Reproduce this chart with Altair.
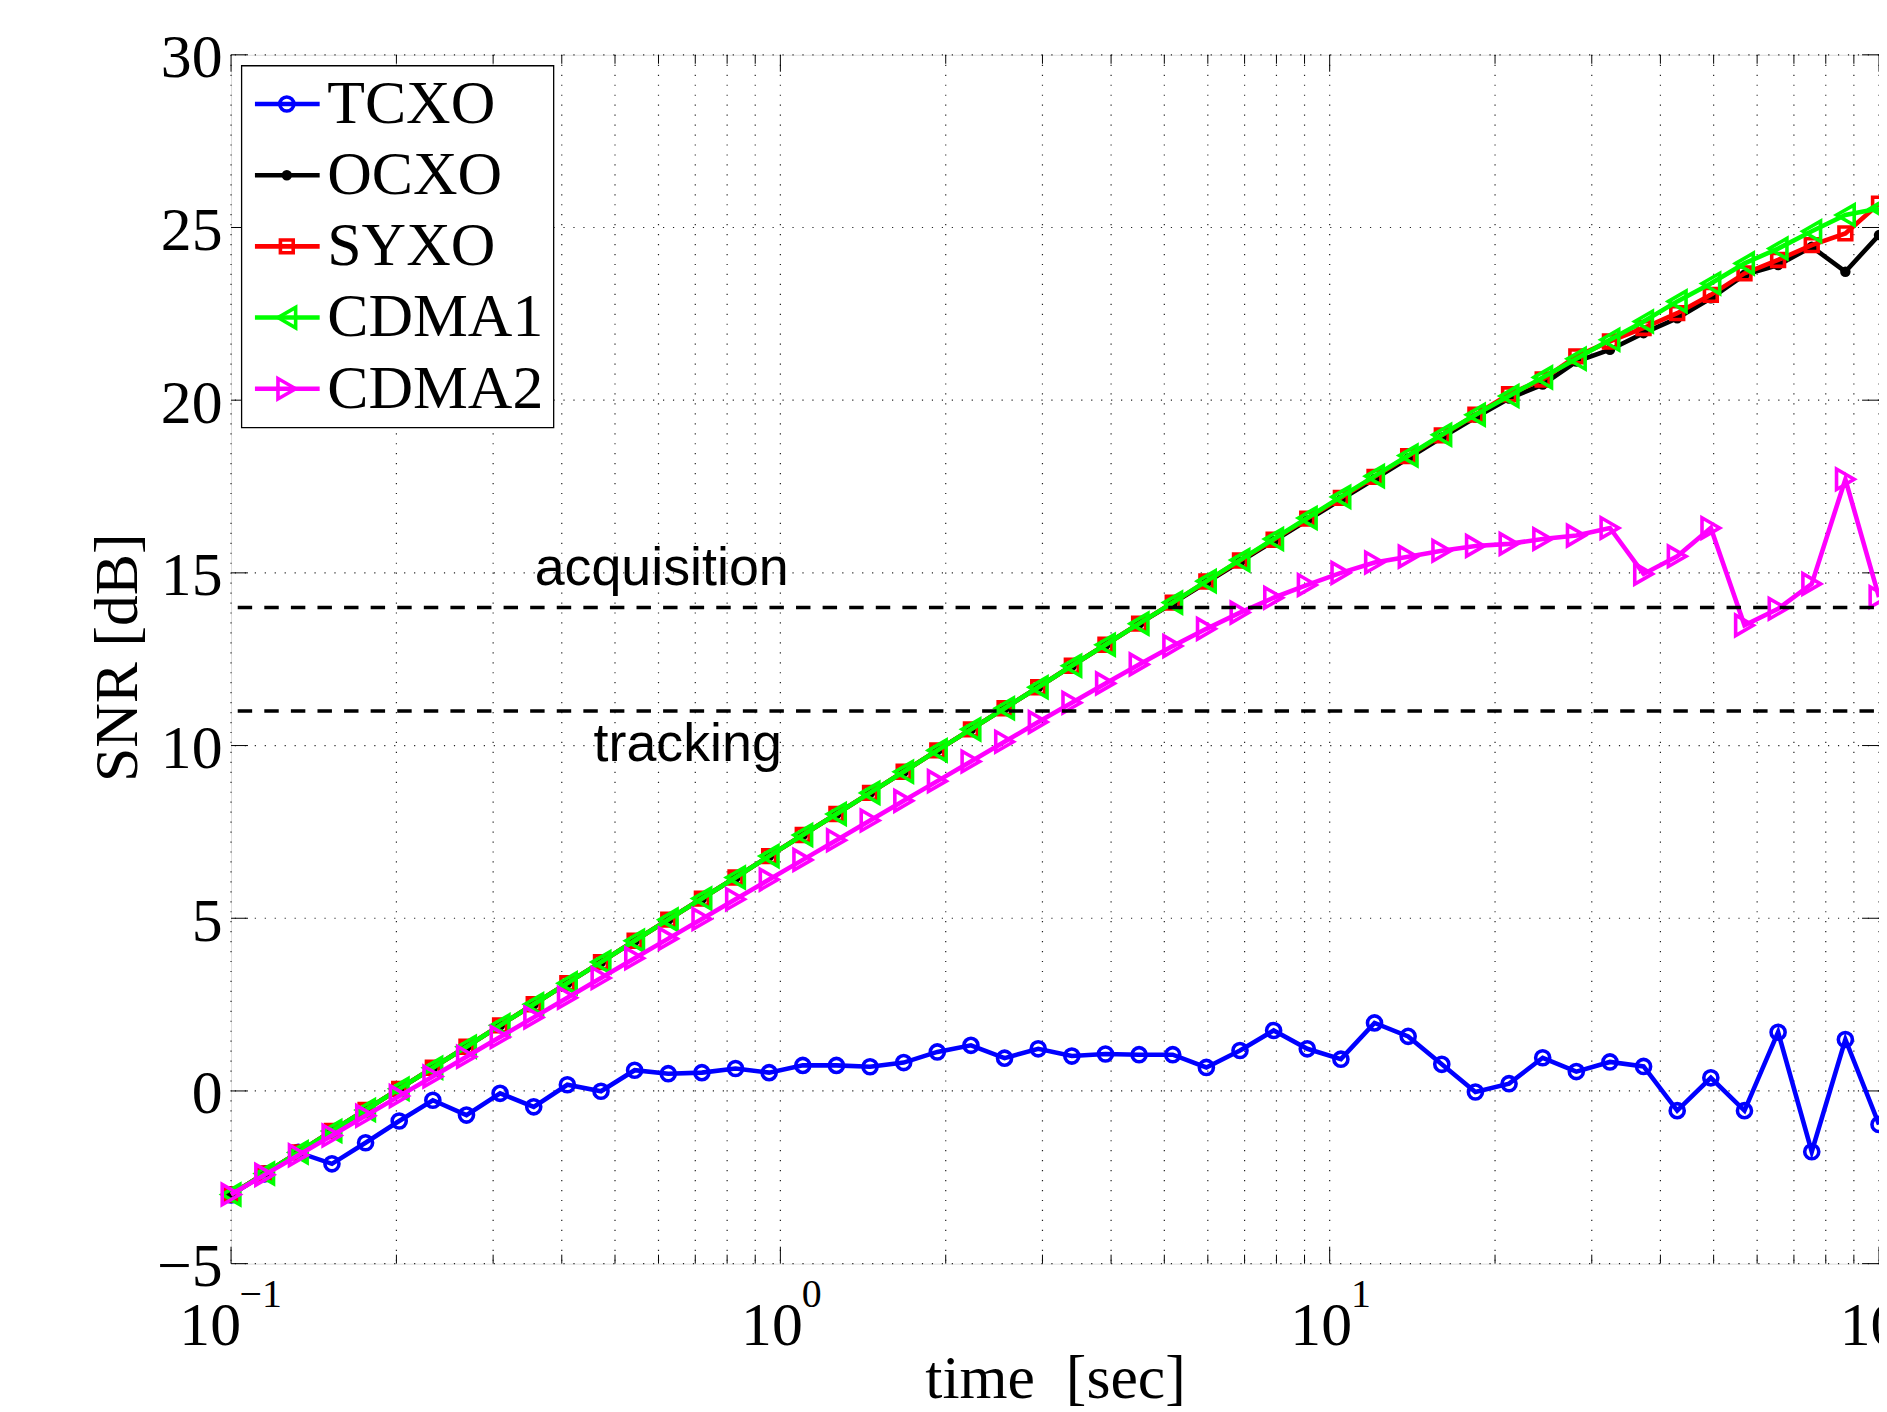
import altair as alt
import pandas as pd

# ---------------- data ----------------
t = [0.1, 0.11514, 0.13257, 0.15264, 0.17575, 0.20236, 0.23300, 0.26827, 0.30888, 0.35565,
     0.40949, 0.47149, 0.54287, 0.62506, 0.71969, 0.82864, 0.95410, 1.0985, 1.2649, 1.4563,
     1.6768, 1.9307, 2.2230, 2.5595, 2.9471, 3.3932, 3.9069, 4.4984, 5.1795, 5.9636,
     6.8665, 7.9060, 9.1030, 10.481, 12.068, 13.895, 15.999, 18.421, 21.210, 24.421,
     28.118, 32.375, 37.276, 42.919, 49.417, 56.899, 65.513, 75.431, 86.851, 100.0]

tcxo = [-3.01, -2.40, -1.78, -2.11, -1.50, -0.87, -0.27, -0.70, -0.07, -0.46,
        0.18, -0.01, 0.60, 0.50, 0.53, 0.65, 0.53, 0.74, 0.74, 0.70,
        0.82, 1.13, 1.32, 0.95, 1.22, 1.01, 1.07, 1.05, 1.05, 0.68,
        1.17, 1.75, 1.22, 0.92, 1.97, 1.58, 0.77, -0.03, 0.21, 0.96,
        0.56, 0.84, 0.71, -0.57, 0.38, -0.57, 1.70, -1.76, 1.49, -0.97]

ocxo = [-3.00, -2.39, -1.78, -1.16, -0.55, 0.06, 0.67, 1.28, 1.90, 2.51,
        3.12, 3.73, 4.35, 4.96, 5.57, 6.18, 6.80, 7.41, 8.02, 8.63,
        9.24, 9.86, 10.47, 11.08, 11.69, 12.31, 12.92, 13.53, 14.12, 14.72,
        15.32, 15.92, 16.52, 17.12, 17.72, 18.32, 18.92, 19.50, 20.05, 20.45,
        21.12, 21.46, 21.94, 22.37, 22.95, 23.63, 23.91, 24.44, 23.72, 24.78]

syxo = [-3.00, -2.39, -1.78, -1.16, -0.55, 0.06, 0.67, 1.28, 1.90, 2.51,
        3.12, 3.73, 4.35, 4.96, 5.57, 6.18, 6.80, 7.41, 8.02, 8.63,
        9.24, 9.86, 10.47, 11.08, 11.69, 12.31, 12.92, 13.53, 14.14, 14.75,
        15.36, 15.96, 16.57, 17.17, 17.78, 18.38, 18.98, 19.58, 20.17, 20.60,
        21.27, 21.70, 22.09, 22.52, 23.05, 23.67, 24.06, 24.49, 24.83, 25.69]

cdma1 = [-3.00, -2.39, -1.78, -1.16, -0.55, 0.06, 0.67, 1.28, 1.90, 2.51,
         3.12, 3.73, 4.35, 4.96, 5.57, 6.18, 6.80, 7.41, 8.02, 8.63,
         9.24, 9.86, 10.47, 11.08, 11.69, 12.31, 12.92, 13.53, 14.14, 14.76,
         15.37, 15.98, 16.59, 17.20, 17.80, 18.40, 19.00, 19.58, 20.12, 20.66,
         21.20, 21.75, 22.28, 22.86, 23.38, 23.96, 24.39, 24.89, 25.36, 25.55]

cdma2 = [-3.00, -2.43, -1.86, -1.29, -0.72, -0.15, 0.42, 0.99, 1.56, 2.13,
         2.70, 3.27, 3.84, 4.41, 4.98, 5.55, 6.12, 6.69, 7.26, 7.83,
         8.40, 8.97, 9.54, 10.11, 10.68, 11.24, 11.80, 12.35, 12.88, 13.38,
         13.85, 14.28, 14.65, 15.00, 15.30, 15.47, 15.64, 15.78, 15.84, 15.98,
         16.08, 16.30, 14.97, 15.48, 16.30, 13.48, 13.96, 14.68, 17.71, 14.30]

names = ["TCXO", "OCXO", "SYXO", "CDMA1", "CDMA2"]
colors = ["#0000ff", "#000000", "#ff0000", "#00ff00", "#ff00ff"]
shapes = ["circle", "circle", "square", "triangle-left", "triangle-right"]
filled = [False, True, False, False, False]
sizes = [200, 110, 165, 420, 420]

x_major = [0.1, 1, 10, 100]
x_exp = ["\u22121", "0", "1", "2"]
x_minor = [0.2, 0.3, 0.4, 0.5, 0.6, 0.7, 0.8, 0.9,
           2, 3, 4, 5, 6, 7, 8, 9,
           20, 30, 40, 50, 60, 70, 80, 90]
y_ticks = [-5, 0, 5, 10, 15, 20, 25, 30]
thresholds = [14, 11]
annot_x = [0.357, 0.457]
annot_y = [15.1, 10.0]
annot_text = ["acquisition", "tracking"]

x_title = "time \u00a0[sec]"
y_title = "SNR [dB]"

# ---------------- chart ----------------
W, H = 1655, 1214
SERIF = "Liberation Serif"
SANS = "Liberation Sans"
LW = 4.6
MSW = 3.6

xs = alt.Scale(type="log", domain=[0.1, 100], nice=False)
ys = alt.Scale(domain=[-5, 30], nice=False, zero=False)

x_axis = alt.Axis(labels=False, ticks=False, domain=False, grid=False,
                  title=x_title, titleFont=SERIF, titleFontSize=62,
                  titleFontWeight="normal", titleColor="black",
                  titleX=W / 2, titleY=134, titleAlign="center",
                  titleBaseline="alphabetic")
y_axis = alt.Axis(values=y_ticks, ticks=False, tickSize=0, domain=False, grid=False,
                  labelFont=SERIF, labelFontSize=62, labelColor="black",
                  labelPadding=9, labelOffset=3,
                  title=y_title, titleFont=SERIF, titleFontSize=62,
                  titleFontWeight="normal", titleColor="black",
                  titleAngle=270, titleX=-95, titleY=605,
                  titleAlign="center", titleBaseline="alphabetic")


def X(f):
    return alt.X(f, scale=xs, axis=x_axis)


def Y(f):
    return alt.Y(f, scale=ys, axis=y_axis)


series = [tcxo, ocxo, syxo, cdma1, cdma2]
df = pd.DataFrame({
    "t": t * len(names),
    "snr": sum(series, []),
    "series": sum([[n] * len(t) for n in names], []),
})

xgrid_df = pd.DataFrame({"v": x_major + x_minor})
ygrid_df = pd.DataFrame({"v": y_ticks})
xmaj_df = pd.DataFrame({"v": x_major, "e": x_exp})
xmin_df = pd.DataFrame({"v": x_minor})
thr_df = pd.DataFrame({"v": thresholds})
ann_df = pd.DataFrame({"x": annot_x, "y": annot_y, "s": annot_text})

GRID = dict(color="#222222", strokeWidth=1.2, strokeDash=[1.2, 8.8])

grid_v = alt.Chart(xgrid_df).mark_rule(**GRID).encode(x=X("v:Q"))
grid_h = alt.Chart(ygrid_df).mark_rule(**GRID).encode(y=Y("v:Q"))

TICK = dict(color="black", strokeWidth=1)
tick_b_maj = alt.Chart(xmaj_df).mark_rule(**TICK).encode(
    x=X("v:Q"), y=alt.value(H), y2=alt.value(H - 17))
tick_b_min = alt.Chart(xmin_df).mark_rule(**TICK).encode(
    x=X("v:Q"), y=alt.value(H), y2=alt.value(H - 9))
tick_t_maj = alt.Chart(xmaj_df).mark_rule(**TICK).encode(
    x=X("v:Q"), y=alt.value(0), y2=alt.value(17))
tick_t_min = alt.Chart(xmin_df).mark_rule(**TICK).encode(
    x=X("v:Q"), y=alt.value(0), y2=alt.value(9))
tick_l = alt.Chart(ygrid_df).mark_rule(**TICK).encode(
    y=Y("v:Q"), x=alt.value(0), x2=alt.value(17))
tick_r = alt.Chart(ygrid_df).mark_rule(**TICK).encode(
    y=Y("v:Q"), x=alt.value(W - 17), x2=alt.value(W))

layers = [grid_v, grid_h, tick_b_maj, tick_b_min, tick_t_maj, tick_t_min, tick_l, tick_r]

for n, c, s, f, sz in zip(names, colors, shapes, filled, sizes):
    base = alt.Chart(df).transform_filter(alt.datum.series == n)
    line = base.mark_line(color=c, strokeWidth=LW).encode(x=X("t:Q"), y=Y("snr:Q"))
    pts = base.mark_point(shape=s, filled=f, size=sz, color=c,
                          strokeWidth=MSW if not f else 1, opacity=1).encode(
        x=X("t:Q"), y=Y("snr:Q"))
    layers += [line, pts]

thr = alt.Chart(thr_df).mark_rule(color="black", strokeWidth=3.5,
                                  strokeDash=[14.5, 12.2], strokeDashOffset=20).encode(
    y=Y("v:Q"), x=alt.value(0), x2=alt.value(W))

ann = alt.Chart(ann_df).mark_text(align="left", baseline="middle", font=SANS,
                                  fontSize=54, color="black").encode(
    x=X("x:Q"), y=Y("y:Q"), text="s:N")

xl_base = alt.Chart(xmaj_df)
ten_single = xl_base.transform_filter("length(datum.e) == 1").mark_text(
    align="right", baseline="alphabetic", font=SERIF, fontSize=62, color="black", dx=22.5
).encode(x=X("v:Q"), y=alt.value(H + 82), text=alt.value("10"))
ten_neg = xl_base.transform_filter("length(datum.e) > 1").mark_text(
    align="right", baseline="alphabetic", font=SERIF, fontSize=62, color="black", dx=10
).encode(x=X("v:Q"), y=alt.value(H + 82), text=alt.value("10"))
exp_single = xl_base.transform_filter("length(datum.e) == 1").mark_text(
    align="left", baseline="alphabetic", font=SERIF, fontSize=40, color="black", dx=21.5
).encode(x=X("v:Q"), y=alt.value(H + 44), text="e:N")
exp_neg = xl_base.transform_filter("length(datum.e) > 1").mark_text(
    align="left", baseline="alphabetic", font=SERIF, fontSize=40, color="black", dx=8.5
).encode(x=X("v:Q"), y=alt.value(H + 44), text="e:N")

layers += [thr, ann, ten_single, ten_neg, exp_single, exp_neg]

# ---------------- legend (drawn in the plot's pixel frame) ----------------
one = pd.DataFrame({"a": [0]})
layers.append(alt.Chart(one).mark_rect(fill="white", stroke="black", strokeWidth=1.3).encode(
    x=alt.value(10.6), x2=alt.value(324), y=alt.value(11), y2=alt.value(374.4)))
for i, (n, c, s, f, sz) in enumerate(zip(names, colors, shapes, filled, sizes)):
    yy = 49.4 + i * 71.5
    layers.append(alt.Chart(one).mark_rule(color=c, strokeWidth=LW).encode(
        x=alt.value(24), x2=alt.value(89), y=alt.value(yy)))
    layers.append(alt.Chart(one).mark_point(shape=s, filled=f, size=sz, color=c,
                                            strokeWidth=MSW if not f else 1, opacity=1).encode(
        x=alt.value(56), y=alt.value(yy)))
    layers.append(alt.Chart(one).mark_text(
        align="left", baseline="middle", font=SERIF, fontSize=62, color="black").encode(
        x=alt.value(96.6), y=alt.value(yy), text=alt.value(n)))

chart = alt.layer(*layers).properties(
    width=W, height=H,
    autosize=alt.AutoSizeParams(type="none"),
    padding={"left": 224, "top": 44, "right": 0, "bottom": 146},
).configure_view(stroke="black", strokeWidth=1.3).configure(background="white")

chart.save("out.html", embed_options={"renderer": "svg", "actions": False})
